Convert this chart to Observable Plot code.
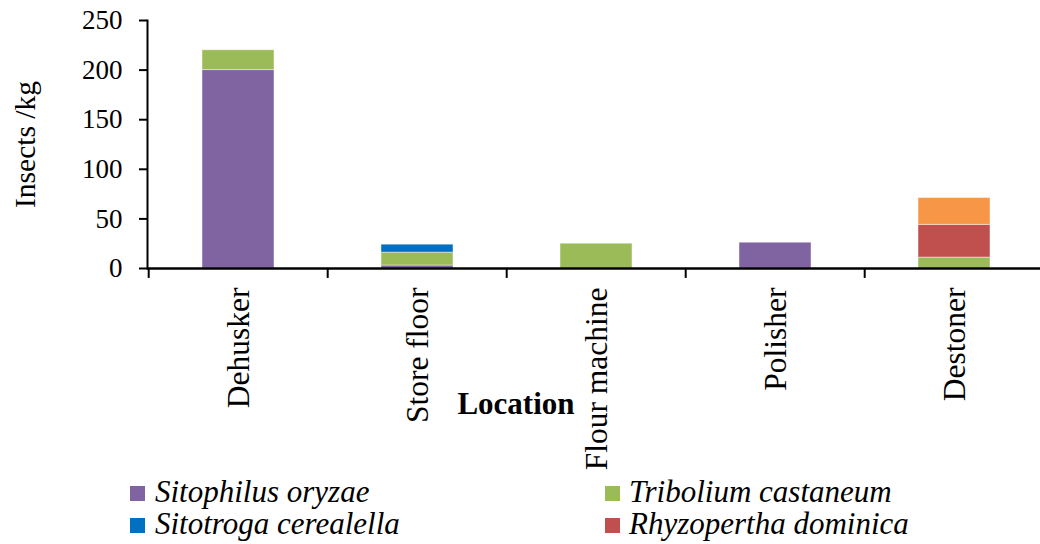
<!DOCTYPE html>
<html>
<head>
<meta charset="utf-8">
<script src="https://cdn.jsdelivr.net/npm/d3@7"></script>
<script src="https://cdn.jsdelivr.net/npm/@observablehq/plot@0.6"></script>
<style>
  html, body { margin: 0; padding: 0; background: #fff; }
  #wrap { position: relative; width: 1040px; height: 544px; overflow: hidden; font-family: 'Liberation Serif', serif; }
  .leg { position: absolute; font-family: 'Liberation Serif', serif; font-style: italic; font-size: 31px; line-height: 32px; white-space: nowrap; color: #000; }
  .sw { position: absolute; width: 15px; height: 15px; }
</style>
</head>
<body>
<div id="wrap"></div>
<script>
const locations = ["Dehusker", "Store floor", "Flour machine", "Polisher", "Destoner"];
const species = ["Sitophilus oryzae", "Tribolium castaneum", "Sitotroga cerealella", "Rhyzopertha dominica", "Other species"];
const colors = ["#8064A2", "#9BBB59", "#0070C0", "#C0504D", "#F79646"];
const sitophilus = [200, 3, 0, 26, 0];
const tribolium = [20, 13, 25, 0, 11];
const sitotroga = [0, 8, 0, 0, 0];
const rhyzopertha = [0, 0, 0, 0, 33];
const otherSpecies = [0, 0, 0, 0, 27];
const yTicks = [0, 50, 100, 150, 200, 250];
const legendSpecies = species.slice(0, 4);

const seriesValues = [sitophilus, tribolium, sitotroga, rhyzopertha, otherSpecies];
const rows = [];
species.forEach((s, si) => {
  locations.forEach((loc, li) => {
    rows.push({location: loc, species: s, value: seriesValues[si][li]});
  });
});

const serif = "'Liberation Serif', serif";

const chart = Plot.plot({
  width: 1040,
  height: 470,
  marginLeft: 147,
  marginRight: 0,
  marginTop: 20,
  marginBottom: 202,
  style: {fontFamily: serif, color: "#000", background: "#fff", overflow: "visible"},
  x: {domain: locations, range: [147, 1045], paddingInner: 0.6, paddingOuter: 0.3, label: null},
  y: {domain: [0, 250], range: [268, 20], label: null},
  color: {domain: species, range: colors},
  marks: [
    Plot.barY(rows, {x: "location", y: "value", fill: "species", order: species, stroke: "#fff", strokeOpacity: 0.45, strokeWidth: 1}),
    Plot.axisY({ticks: yTicks, tickSize: 8, tickPadding: 17, fontSize: 27, fontFamily: serif, fontVariant: "normal", strokeWidth: 2, label: null}),
    Plot.axisX({tickSize: 0, tickRotate: -90, tickPadding: 19, fontSize: 31.5, fontFamily: serif, fontVariant: "normal", label: null}),
    Plot.frame({anchor: "left", strokeWidth: 2}),
    Plot.ruleY([0], {strokeWidth: 2.5}),
    Plot.ruleX(locations, {x: d => d, y1: 0, y2: -10, dx: -89.8, strokeWidth: 2}),
    Plot.text(["Insects /kg"], {frameAnchor: "left", textAnchor: "middle", dx: -122, rotate: -90, fontSize: 29.5, fontFamily: serif, text: d => d}),
    Plot.text(["Location"], {frameAnchor: "bottom", dx: -78, dy: 145, fontSize: 31, fontFamily: serif, fontWeight: "bold", text: d => d})
  ]
});

const wrap = document.getElementById("wrap");
wrap.appendChild(chart);

const legPos = [
  {sx: 130, tx: 155, cy: 493},
  {sx: 605, tx: 629, cy: 493},
  {sx: 130, tx: 155, cy: 525},
  {sx: 605, tx: 629, cy: 525}
];
legendSpecies.forEach((s, i) => {
  const p = legPos[i];
  const sw = document.createElement("div");
  sw.className = "sw";
  sw.style.left = p.sx + "px";
  sw.style.top = (p.cy - 7) + "px";
  sw.style.background = colors[species.indexOf(s)];
  wrap.appendChild(sw);
  const t = document.createElement("div");
  t.className = "leg";
  t.style.left = p.tx + "px";
  t.style.top = (p.cy - 17) + "px";
  t.textContent = s;
  wrap.appendChild(t);
});
</script>
</body>
</html>
